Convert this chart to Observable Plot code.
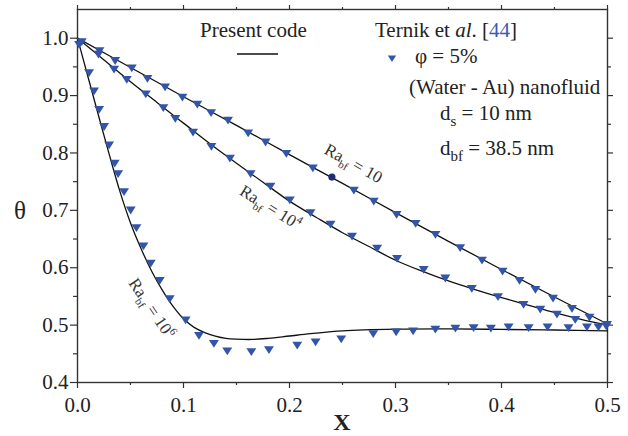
<!DOCTYPE html>
<html><head><meta charset="utf-8">
<script src="https://cdn.jsdelivr.net/npm/d3@7"></script>
<script src="https://cdn.jsdelivr.net/npm/@observablehq/plot@0.6"></script>
<style>
body{margin:0;background:#fff;}
#wrap{width:628px;height:436px;}
</style></head><body><div id="wrap"></div>
<script>
// ---------- data ----------
const xTicks = [0.0, 0.1, 0.2, 0.3, 0.4, 0.5];
const yTicks = [0.4, 0.5, 0.6, 0.7, 0.8, 0.9, 1.0];
const xMinor = [0.05, 0.15, 0.25, 0.35, 0.45];
const yMinor = [0.45, 0.55, 0.65, 0.75, 0.85, 0.95];

// Present code (solid lines)
const ra10LineX = [0, 0.05, 0.1, 0.15, 0.2, 0.25, 0.3, 0.35, 0.4, 0.45, 0.5];
const ra10LineY = [1.0, 0.949, 0.898, 0.848, 0.797, 0.747, 0.696, 0.646, 0.597, 0.549, 0.502];

const ra4LineX = [0, 0.025, 0.05, 0.075, 0.1, 0.125, 0.15, 0.175, 0.2, 0.225, 0.25, 0.275, 0.3, 0.325, 0.35, 0.375, 0.4, 0.425, 0.45, 0.475, 0.5];
const ra4LineY = [1.0, 0.962, 0.924, 0.888, 0.852, 0.816, 0.782, 0.749, 0.716, 0.688, 0.661, 0.637, 0.613, 0.594, 0.577, 0.562, 0.548, 0.535, 0.522, 0.51, 0.5];

const ra6LineX = [0, 0.01, 0.02, 0.03, 0.04, 0.05, 0.06, 0.07, 0.08, 0.09, 0.1, 0.11, 0.12, 0.13, 0.14, 0.15, 0.165, 0.18, 0.2, 0.22, 0.25, 0.3, 0.35, 0.4, 0.45, 0.5];
const ra6LineY = [1.0, 0.932, 0.864, 0.797, 0.733, 0.678, 0.633, 0.594, 0.561, 0.533, 0.511, 0.496, 0.487, 0.481, 0.477, 0.4755, 0.475, 0.477, 0.481, 0.485, 0.49, 0.493, 0.4935, 0.4925, 0.4915, 0.49];

// Ternik et al. [44] (triangles)
const ternik10X = [0.004, 0.0207, 0.0355, 0.0512, 0.066, 0.0826, 0.099, 0.113, 0.126, 0.142, 0.161, 0.1774, 0.197, 0.222, 0.2607, 0.2795, 0.301, 0.319, 0.3377, 0.361, 0.3816, 0.401, 0.417, 0.432, 0.4486, 0.4665, 0.483, 0.4995];
const ternik10Y = [0.995, 0.979, 0.962, 0.949, 0.931, 0.916, 0.898, 0.886, 0.871, 0.858, 0.836, 0.820, 0.800, 0.775, 0.736, 0.717, 0.694, 0.678, 0.659, 0.636, 0.614, 0.595, 0.579, 0.563, 0.548, 0.530, 0.515, 0.502];

const ternik4X = [0.0015, 0.0198, 0.0345, 0.0465, 0.0644, 0.081, 0.0923, 0.109, 0.1263, 0.1438, 0.1633, 0.182, 0.2003, 0.2198, 0.2387, 0.259, 0.2827, 0.3015, 0.3266, 0.347, 0.372, 0.3967, 0.4208, 0.4366, 0.4523, 0.4696, 0.4915];
const ternik4Y = [0.990, 0.973, 0.947, 0.929, 0.904, 0.880, 0.861, 0.837, 0.8125, 0.792, 0.765, 0.743, 0.719, 0.697, 0.677, 0.656, 0.635, 0.617, 0.598, 0.583, 0.565, 0.5505, 0.537, 0.5286, 0.520, 0.511, 0.4977];

const ternik6X = [0.0109, 0.0156, 0.0204, 0.0251, 0.0298, 0.0351, 0.0383, 0.0439, 0.0502, 0.0556, 0.0622, 0.0691, 0.0776, 0.087, 0.102, 0.1146, 0.1287, 0.1413, 0.164, 0.1806, 0.2073, 0.2246, 0.2488, 0.279, 0.3006, 0.3166, 0.3376, 0.3565, 0.3737, 0.390, 0.4067, 0.4256, 0.4435, 0.4632, 0.4806, 0.4988];
const ternik6Y = [0.941, 0.909, 0.877, 0.847, 0.815, 0.783, 0.765, 0.7335, 0.7015, 0.6707, 0.639, 0.609, 0.579, 0.547, 0.510, 0.483, 0.469, 0.456, 0.4547, 0.458, 0.466, 0.4716, 0.477, 0.486, 0.489, 0.491, 0.4937, 0.4955, 0.4965, 0.4955, 0.4977, 0.4965, 0.4977, 0.4965, 0.4977, 0.4995];

// single circle point on the Ra = 10 curve
const dotX = [0.240];
const dotY = [0.758];

// curve labels
const curveLabels = ["Ra bf = 10", "Ra bf = 10^4", "Ra bf = 10^6"];
const labelX = [0.2604, 0.182, 0.070];
const labelY = [0.7817, 0.705, 0.5293];
const labelAngle = [29, 32, 56];

// ---------- build tables ----------
const zip = (xs, ys) => xs.map((x, i) => ({x, y: ys[i]}));
const lines = [zip(ra10LineX, ra10LineY), zip(ra4LineX, ra4LineY), zip(ra6LineX, ra6LineY)];
const tri = [...zip(ternik10X, ternik10Y), ...zip(ternik4X, ternik4Y), ...zip(ternik6X, ternik6Y)];
const labels = curveLabels.map((t, i) => ({t, x: labelX[i], y: labelY[i], a: labelAngle[i]}));

const triDown = {
  draw(ctx, size) {
    const y = Math.sqrt(size / (Math.sqrt(3) * 3));
    const h = Math.sqrt(3) * y;
    ctx.moveTo(0, 1.7 * y);
    ctx.lineTo(-h, -y);
    ctx.lineTo(h, -y);
    ctx.closePath();
  }
};

const serif = "'Liberation Serif', 'Times New Roman', serif";
const axisColor = "#333";
const triColor = "#3355a8";

const plot = Plot.plot({
  width: 628, height: 436,
  marginLeft: 77, marginRight: 21, marginTop: 9, marginBottom: 54,
  style: {fontFamily: serif, fontSize: "21px", color: "#222", background: "white", overflow: "visible"},
  x: {domain: [0, 0.5], label: null},
  y: {domain: [0.4, 1.05], label: null},
  marks: [
    Plot.axisX({ticks: xTicks, tickSize: 6, tickPadding: 9, tickFormat: d3.format(".1f"), fontSize: 21, label: null, stroke: axisColor, strokeWidth: 1.2}),
    Plot.axisX({ticks: xMinor, tickSize: 3, text: null, label: null, stroke: axisColor, strokeWidth: 1.2}),
    Plot.axisX({anchor: "top", ticks: xTicks, tickSize: 5, text: null, label: null, stroke: axisColor, strokeWidth: 1.2}),
    Plot.axisX({anchor: "top", ticks: xMinor, tickSize: 3, text: null, label: null, stroke: axisColor, strokeWidth: 1.2}),
    Plot.axisY({ticks: yTicks, tickSize: 7, tickPadding: 2, tickFormat: d3.format(".1f"), fontSize: 21, label: null, stroke: axisColor, strokeWidth: 1.2}),
    Plot.axisY({ticks: yMinor, tickSize: 4, text: null, label: null, stroke: axisColor, strokeWidth: 1.2}),
    Plot.axisY({anchor: "right", ticks: yTicks, tickSize: 5, text: null, label: null, stroke: axisColor, strokeWidth: 1.2}),
    Plot.axisY({anchor: "right", ticks: yMinor, tickSize: 3, text: null, label: null, stroke: axisColor, strokeWidth: 1.2}),
    Plot.frame({stroke: axisColor, strokeWidth: 1.4}),
    ...lines.map(L => Plot.line(L, {x: "x", y: "y", curve: "catmull-rom", stroke: "#111", strokeWidth: 1.3})),
    Plot.dot(tri, {x: "x", y: "y", symbol: triDown, r: 3.7, fill: triColor, stroke: "none"}),
    Plot.dot(zip(dotX, dotY), {x: "x", y: "y", r: 3.6, fill: "#1f2d6e", stroke: "none"}),
    ...labels.map(l => Plot.text([l], {x: "x", y: "y", text: "t", rotate: l.a, fontSize: 17, fill: "#333", textAnchor: "middle"}))
  ]
});
document.getElementById("wrap").appendChild(plot);

// ---------- rich text ----------
const NS = "http://www.w3.org/2000/svg";
function fillRich(el, segs) {
  el.textContent = "";
  let prev = 0;
  for (const s of segs) {
    const ts = document.createElementNS(NS, "tspan");
    ts.textContent = s.t;
    const sh = s.shift || 0;
    if (sh !== prev) ts.setAttribute("dy", sh - prev);
    prev = sh;
    if (s.italic) ts.setAttribute("font-style", "italic");
    if (s.bold) ts.setAttribute("font-weight", "bold");
    if (s.size) ts.setAttribute("font-size", s.size);
    if (s.fill) ts.setAttribute("fill", s.fill);
    el.appendChild(ts);
  }
}
const richMap = {
  "Ra bf = 10": [{t: "Ra"}, {t: "bf", size: 11, shift: 5}, {t: " = 10", shift: 0}],
  "Ra bf = 10^4": [{t: "Ra"}, {t: "bf", size: 11, shift: 5}, {t: " = 10", shift: 0}, {t: "4", size: 11, shift: -7}],
  "Ra bf = 10^6": [{t: "Ra"}, {t: "bf", size: 11, shift: 5}, {t: " = 10", shift: 0}, {t: "6", size: 11, shift: -7}]
};
plot.querySelectorAll("text").forEach(el => {
  const segs = richMap[el.textContent];
  if (segs) fillRich(el, segs);
});

// ---------- legend & axis titles ----------
const svg = d3.select(plot);
const g = svg.append("g").attr("font-family", serif).attr("fill", "#222");
function addText(x, y, segs, size, anchor) {
  const t = g.append("text").attr("x", x).attr("y", y).attr("font-size", size).attr("text-anchor", anchor || "start");
  fillRich(t.node(), segs);
  return t;
}
addText(200, 37, [{t: "Present code"}], 21);
g.append("line").attr("x1", 237).attr("x2", 278).attr("y1", 54).attr("y2", 54).attr("stroke", "#111").attr("stroke-width", 1.3);
addText(375, 37, [{t: "Ternik et "}, {t: "al", italic: true}, {t: ". ["}, {t: "44", fill: "#3a5bb0"}, {t: "]"}], 21);
g.append("path").attr("d", d3.symbol(triDown, 30)()).attr("transform", "translate(392,58)").attr("fill", triColor);
addText(415, 63, [{t: "\u03C6 = 5%"}], 21);
addText(409, 94, [{t: "(Water - Au) nanofluid"}], 21);
addText(440, 120, [{t: "d"}, {t: "s", size: 15, shift: 6}, {t: " = 10 nm", shift: 0}], 21);
addText(440, 155, [{t: "d"}, {t: "bf", size: 15, shift: 6}, {t: " = 38.5 nm", shift: 0}], 21);
addText(20, 219, [{t: "\u03B8"}], 25, "middle");
addText(342, 430, [{t: "X", bold: true}], 24, "middle");
</script></body></html>
